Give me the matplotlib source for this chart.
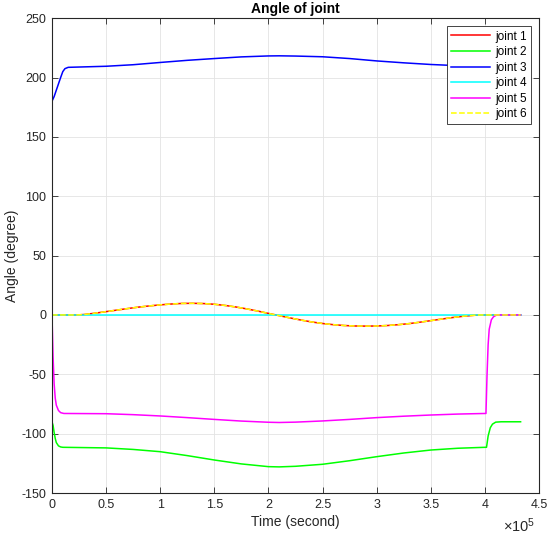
import matplotlib
matplotlib.use('Agg')
import matplotlib.pyplot as plt
from matplotlib.ticker import FuncFormatter

plt.rcParams['font.family'] = ['Liberation Sans', 'DejaVu Sans']
plt.rcParams['axes.unicode_minus'] = False
plt.rcParams['mathtext.fontset'] = 'custom'
plt.rcParams['mathtext.rm'] = 'Liberation Sans'

# time axis in units of 1e5 s
t_j1 = [0, 0.1, 0.23, 0.3, 0.4, 0.5, 0.6, 0.7, 0.8, 0.9, 1.0, 1.1, 1.2, 1.3, 1.4, 1.5,
        1.6, 1.7, 1.8, 1.9, 2.0, 2.1, 2.2, 2.3, 2.4, 2.5, 2.6, 2.7, 2.8, 2.9, 3.0,
        3.1, 3.2, 3.3, 3.4, 3.5, 3.6, 3.7, 3.8, 3.9, 3.95, 4.1, 4.33]
joint1 = [0, 0, 0, 0.4, 1.5, 2.8, 4.1, 5.4, 6.6, 7.6, 8.5, 9.2, 9.7, 9.8, 9.6, 9.0,
          8.0, 6.7, 5.1, 3.3, 1.3, -0.6, -2.5, -4.3, -5.9, -7.2, -8.2, -8.9, -9.3, -9.4, -9.3,
          -8.9, -8.2, -7.3, -6.1, -4.8, -3.5, -2.2, -1.1, -0.3, 0, 0, 0]
joint6 = list(joint1)

t_j2 = [0, 0.01, 0.02, 0.03, 0.04, 0.06, 0.08, 0.1, 0.5, 0.75, 1.0, 1.25, 1.5, 1.75,
        2.0, 2.1, 2.25, 2.5, 2.75, 3.0, 3.25, 3.5, 3.75, 4.0, 4.015, 4.03, 4.05, 4.07,
        4.1, 4.15, 4.33]
joint2 = [-90, -93, -99, -104, -107.5, -110.3, -111.2, -111.5, -112, -113.3, -115.2,
          -118.5, -122.2, -125.5, -127.8, -128, -127.5, -125.8, -122.8, -119.4, -116.3,
          -113.8, -112.3, -111.5, -111.5, -102, -95, -92, -90.3, -90, -90]

t_j3 = [0, 0.02, 0.05, 0.08, 0.1, 0.12, 0.15, 0.5, 0.75, 1.0, 1.25, 1.5, 1.75, 2.0,
        2.1, 2.25, 2.5, 2.75, 3.0, 3.25, 3.5, 3.75, 4.0, 4.02, 4.05, 4.1, 4.15, 4.33]
joint3 = [180, 184, 192, 200, 205, 207.5, 208.6, 209.5, 210.8, 212.7, 214.5, 216, 217.4,
          218.2, 218.3, 218.1, 217.5, 216, 214, 212.4, 211, 210, 209.3, 200, 188, 181,
          180, 180]

t_j4 = [0, 4.33]
joint4 = [0, 0]

t_j5 = [0, 0.01, 0.02, 0.03, 0.04, 0.06, 0.08, 0.11, 0.5, 0.75, 1.0, 1.25, 1.5, 1.75,
        2.0, 2.1, 2.25, 2.5, 2.75, 3.0, 3.25, 3.5, 3.75, 4.0, 4.01, 4.02, 4.03, 4.04,
        4.06, 4.08, 4.11, 4.33]
joint5 = [0, -35, -58, -70, -76, -80.5, -82.3, -83, -83.2, -84, -85.1, -86.5, -88,
          -89.4, -90.4, -90.6, -90.3, -89.3, -88, -86.5, -85.3, -84.3, -83.5, -83, -83,
          -50, -25, -12, -4, -1.5, 0, 0]

labels = ['joint 1', 'joint 2', 'joint 3', 'joint 4', 'joint 5', 'joint 6']

scale = 1e5
fig = plt.figure(figsize=(5.5, 5.35), dpi=100)
ax = fig.add_axes([0.0945, 0.0785, 0.8855, 0.8875])

ax.plot([v * scale for v in t_j1], joint1, color='#ff0000', lw=1.1, label=labels[0])
ax.plot([v * scale for v in t_j2], joint2, color='#00ff00', lw=1.1, label=labels[1])
ax.plot([v * scale for v in t_j3], joint3, color='#0000ff', lw=1.1, label=labels[2])
ax.plot([v * scale for v in t_j4], joint4, color='#00ffff', lw=1.1, label=labels[3])
ax.plot([v * scale for v in t_j5], joint5, color='#ff00ff', lw=1.1, label=labels[4])
ax.plot([v * scale for v in t_j1], joint6, color='#ffff00', lw=1.1, ls='--', label=labels[5])

ax.set_xlim(0, 4.5e5)
ax.set_ylim(-150, 250)
ax.set_xticks([i * 0.5e5 for i in range(10)])
ax.set_yticks(range(-150, 251, 50))
ax.xaxis.set_major_formatter(FuncFormatter(lambda v, p: f'{v / scale:g}'))

ax.grid(True, color='#e3e3e3', lw=0.6)
ax.set_axisbelow(True)
for s in ax.spines.values():
    s.set_color('#262626')
    s.set_linewidth(0.8)
ax.tick_params(direction='in', top=True, right=True, length=4, width=0.6,
               colors='#262626', labelsize=9, pad=4)

ax.set_title('Angle of joint', fontsize=10, fontweight='bold', pad=4)
ax.set_xlabel('Time (second)', fontsize=10, color='#262626', labelpad=3)
ax.set_ylabel('Angle (degree)', fontsize=10, color='#262626', labelpad=2)
ax.text(0.992, -0.082, r'$\times\mathregular{10^5}$', transform=ax.transAxes, ha='right',
        va='baseline', fontsize=10.5, color='#262626')

leg = ax.legend(loc='upper right', fontsize=8.5, handlelength=3.3, fancybox=False,
                framealpha=1, edgecolor='#262626', borderaxespad=0.7,
                labelspacing=0.3, borderpad=0.35, handletextpad=0.45)
leg.get_frame().set_linewidth(0.6)

fig.savefig('out.png', dpi=100)
